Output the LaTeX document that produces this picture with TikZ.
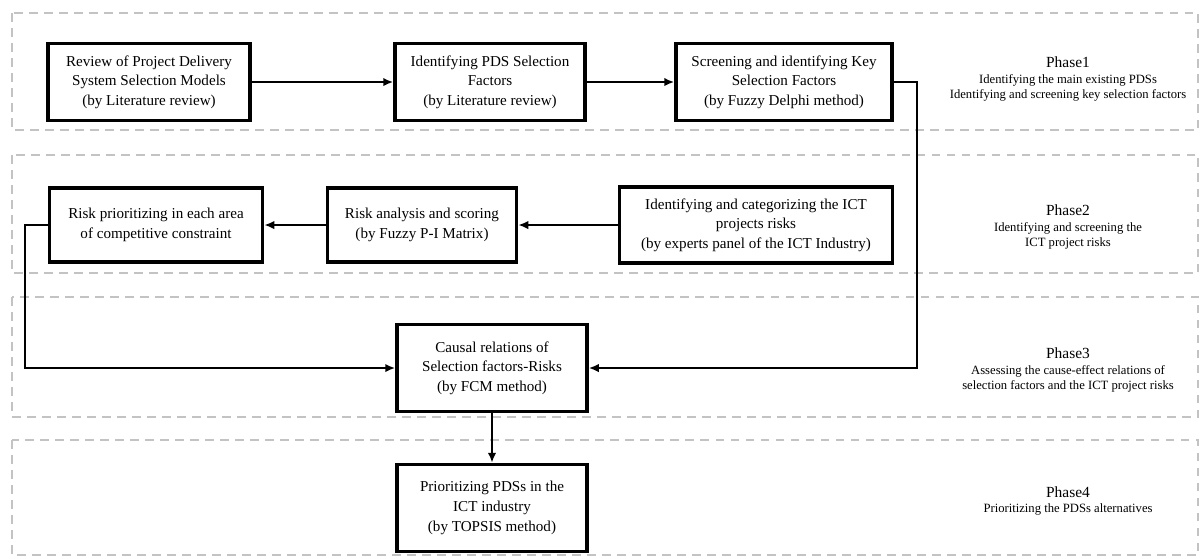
\documentclass[tikz,border=0pt]{standalone}
\usepackage{fontspec}
\setmainfont{Liberation Serif}
\usepackage{xcolor}
\usepackage{tikz}
\usetikzlibrary{arrows.meta,positioning}

\definecolor{phasegray}{RGB}{195,195,195}

\begin{document}
\begin{tikzpicture}[
    stepbox/.style={draw, line width=2pt, align=center, inner sep=2pt,
      font=\fontsize{8.6}{11.2}\selectfont},
    phasebox/.style={draw=phasegray, line width=1.5pt, dash pattern=on 0.17cm off 0.13cm},
    phasetxt/.style={align=center, font=\fontsize{7.2}{8.6}\selectfont},
    link/.style={line width=1.4pt, -{Latex[length=2mm,width=1.7mm]}}
  ]
  \useasboundingbox (0,0) rectangle (24,-11.16);

  % phase frames
  \draw[phasebox] (0.24,-0.26) rectangle (23.96,-2.6);
  \draw[phasebox] (0.24,-3.1) rectangle (23.96,-5.46);
  \draw[phasebox] (0.24,-5.94) rectangle (23.96,-8.34);
  \draw[phasebox] (0.24,-8.8) rectangle (23.96,-11.1);

  % phase 1
  \node[stepbox, minimum width=4.04cm, minimum height=1.54cm] (rev) at (2.98,-1.64)
    {Review of Project Delivery\\System Selection Models\\(by Literature review)};
  \node[stepbox, minimum width=3.8cm, minimum height=1.54cm] (fac) at (9.8,-1.64)
    {Identifying PDS Selection\\Factors\\(by Literature review)};
  \node[stepbox, minimum width=4.32cm, minimum height=1.54cm] (key) at (15.68,-1.64)
    {Screening and identifying Key\\Selection Factors\\(by Fuzzy Delphi method)};

  % phase 2
  \node[stepbox, minimum width=4.26cm, minimum height=1.48cm] (prio) at (3.12,-4.5)
    {Risk prioritizing in each area\\of competitive constraint};
  \node[stepbox, minimum width=3.78cm, minimum height=1.48cm] (anal) at (8.44,-4.5)
    {Risk analysis and scoring\\(by Fuzzy P-I Matrix)};
  \node[stepbox, minimum width=5.46cm, minimum height=1.52cm] (iden) at (15.12,-4.5)
    {Identifying and categorizing the ICT\\projects risks\\(by experts panel of the ICT Industry)};

  % phase 3 and 4
  \node[stepbox, minimum width=3.8cm, minimum height=1.74cm] (caus) at (9.84,-7.36)
    {Causal relations of\\Selection factors-Risks\\(by FCM method)};
  \node[stepbox, minimum width=3.8cm, minimum height=1.74cm] (tops) at (9.84,-10.16)
    {Prioritizing PDSs in the\\ICT industry\\(by TOPSIS method)};

  % phase labels
  \node[phasetxt] (p1) at (21.36,-1.58)
    {{\fontsize{8.8}{11}\selectfont Phase1}\\Identifying the main existing PDSs\\Identifying and screening key selection factors};
  \node[phasetxt] (p2) at (21.36,-4.54)
    {{\fontsize{8.8}{11}\selectfont Phase2}\\Identifying and screening the\\ICT project risks};
  \node[phasetxt] (p3) at (21.36,-7.4)
    {{\fontsize{8.8}{11}\selectfont Phase3}\\Assessing the cause-effect relations of\\selection factors and the ICT project risks};
  \node[phasetxt] (p4) at (21.36,-10.02)
    {{\fontsize{8.8}{11}\selectfont Phase4}\\Prioritizing the PDSs alternatives};

  % connectors
  \draw[link] (rev) -- (fac);
  \draw[link] (fac) -- (key);
  \draw[link] (key.east) -- ++(0.46,0) |- (caus.east);
  \draw[link] (iden) -- (anal);
  \draw[link] (anal) -- (prio);
  \draw[link] (prio.west) -- ++(-0.46,0) |- (caus.west);
  \draw[link] (caus) -- (tops);
\end{tikzpicture}
\end{document}
